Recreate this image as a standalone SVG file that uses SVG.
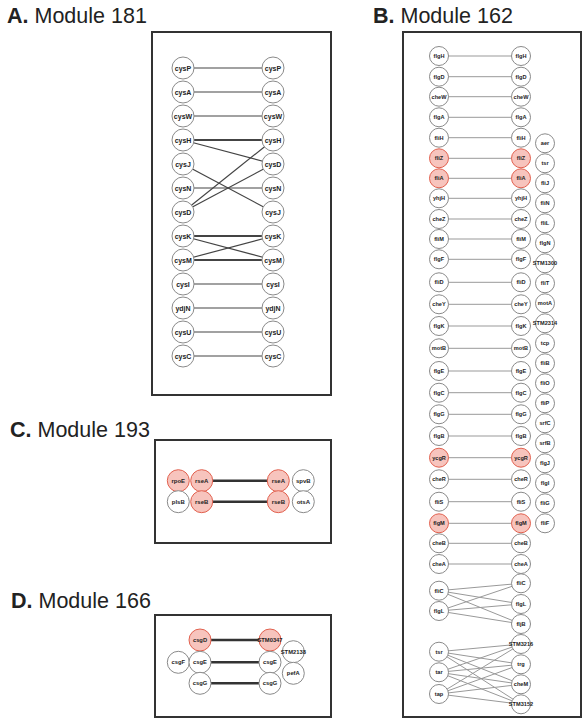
<svg xmlns="http://www.w3.org/2000/svg" width="588" height="725" viewBox="0 0 588 725">
<style>
.bg{fill:#fff}
.box{fill:#fff;stroke:#333;stroke-width:2}
.title{font-family:"Liberation Sans",Arial,sans-serif;font-size:21.5px;fill:#222}
.title .b{font-weight:bold}
circle{fill:#fff;stroke:#8a8a8a;stroke-width:1}
circle.red{fill:#f7c4bd;stroke:#e2614f}
text.l{font-family:"Liberation Sans",Arial,sans-serif;font-weight:bold;fill:#222;text-anchor:middle;dominant-baseline:central}
.ta text.l{font-size:7px}
.tb text.l{font-size:5.6px}
.tc text.l{font-size:6px}
.td text.l{font-size:5.8px}
.ea line{stroke:#444;stroke-width:1.2}
.ea line.d{stroke-width:2}
.eb line{stroke:#999;stroke-width:1}
.ec line{stroke:#333;stroke-width:2.6}
</style>
<rect class="bg" x="0" y="0" width="588" height="725"/>

<text class="title" x="7" y="23"><tspan class="b">A.</tspan> Module 181</text>
<text class="title" x="373" y="23"><tspan class="b">B.</tspan> Module 162</text>
<text class="title" x="10" y="437"><tspan class="b">C.</tspan> Module 193</text>
<text class="title" x="11" y="608"><tspan class="b">D.</tspan> Module 166</text>

<rect class="box" x="152" y="32" width="179" height="363"/>
<rect class="box" x="403" y="32" width="178" height="685"/>
<rect class="box" x="155" y="440" width="176" height="103"/>
<rect class="box" x="155" y="615" width="176" height="102"/>

<g id="connectors">
<g class="ea">
<line x1="183" y1="68" x2="273" y2="68"/>
<line x1="183" y1="92" x2="273" y2="92"/>
<line x1="183" y1="116" x2="273" y2="116"/>
<line class="d" x1="183" y1="140" x2="273" y2="140"/>
<line x1="183" y1="140" x2="273" y2="164"/>
<line x1="183" y1="164" x2="273" y2="212"/>
<line x1="183" y1="188" x2="273" y2="188"/>
<line x1="183" y1="212" x2="273" y2="140"/>
<line x1="183" y1="212" x2="273" y2="164"/>
<line class="d" x1="183" y1="236" x2="273" y2="236"/>
<line x1="183" y1="236" x2="273" y2="260"/>
<line x1="183" y1="260" x2="273" y2="236"/>
<line class="d" x1="183" y1="260" x2="273" y2="260"/>
<line x1="183" y1="284" x2="273" y2="284"/>
<line x1="183" y1="308" x2="273" y2="308"/>
<line x1="183" y1="332" x2="273" y2="332"/>
<line x1="183" y1="356" x2="273" y2="356"/>
</g>
<g class="eb">
<line x1="439" y1="56" x2="521" y2="56"/>
<line x1="439" y1="76.7" x2="521" y2="76.7"/>
<line x1="439" y1="96.7" x2="521" y2="96.7"/>
<line x1="439" y1="117.3" x2="521" y2="117.3"/>
<line x1="439" y1="137.7" x2="521" y2="137.7"/>
<line x1="439" y1="158.3" x2="521" y2="158.3"/>
<line x1="439" y1="178.3" x2="521" y2="178.3"/>
<line x1="439" y1="198.3" x2="521" y2="198.3"/>
<line x1="439" y1="219" x2="521" y2="219"/>
<line x1="439" y1="239" x2="521" y2="239"/>
<line x1="439" y1="259.3" x2="521" y2="259.3"/>
<line x1="439" y1="282.3" x2="521" y2="282.3"/>
<line x1="439" y1="304.3" x2="521" y2="304.3"/>
<line x1="439" y1="326" x2="521" y2="326"/>
<line x1="439" y1="348.3" x2="521" y2="348.3"/>
<line x1="439" y1="371" x2="521" y2="371"/>
<line x1="439" y1="392.7" x2="521" y2="392.7"/>
<line x1="439" y1="414.3" x2="521" y2="414.3"/>
<line x1="439" y1="436" x2="521" y2="436"/>
<line x1="439" y1="457.7" x2="521" y2="457.7"/>
<line x1="439" y1="479.3" x2="521" y2="479.3"/>
<line x1="439" y1="501.7" x2="521" y2="501.7"/>
<line x1="439" y1="523.3" x2="521" y2="523.3"/>
<line x1="439" y1="543.3" x2="521" y2="543.3"/>
<line x1="439" y1="564" x2="521" y2="564"/>
<line x1="439" y1="590.7" x2="521" y2="583.3"/>
<line x1="439" y1="590.7" x2="521" y2="604"/>
<line x1="439" y1="590.7" x2="521" y2="624"/>
<line x1="439" y1="611" x2="521" y2="583.3"/>
<line x1="439" y1="611" x2="521" y2="604"/>
<line x1="439" y1="611" x2="521" y2="624"/>
<line x1="439" y1="651.7" x2="521" y2="644"/>
<line x1="439" y1="651.7" x2="521" y2="664.3"/>
<line x1="439" y1="651.7" x2="521" y2="684.3"/>
<line x1="439" y1="651.7" x2="521" y2="704.3"/>
<line x1="439" y1="672.3" x2="521" y2="644"/>
<line x1="439" y1="672.3" x2="521" y2="664.3"/>
<line x1="439" y1="672.3" x2="521" y2="684.3"/>
<line x1="439" y1="672.3" x2="521" y2="704.3"/>
<line x1="439" y1="694" x2="521" y2="644"/>
<line x1="439" y1="694" x2="521" y2="664.3"/>
<line x1="439" y1="694" x2="521" y2="684.3"/>
<line x1="439" y1="694" x2="521" y2="704.3"/>
</g>
<g class="ec">
<line x1="201.7" y1="480.7" x2="278.3" y2="480.7"/>
<line x1="201.7" y1="501.7" x2="278.3" y2="501.7"/>
<line x1="200" y1="640" x2="270" y2="640"/>
<line x1="200" y1="662.3" x2="270" y2="662.3"/>
<line x1="200" y1="683.3" x2="270" y2="683.3"/>
</g>
</g>

<g class="ta">
<g id="a-l-cysP"><circle cx="183" cy="68" r="11"/><text class="l" x="183" y="68">cysP</text></g>
<g id="a-l-cysA"><circle cx="183" cy="92" r="11"/><text class="l" x="183" y="92">cysA</text></g>
<g id="a-l-cysW"><circle cx="183" cy="116" r="11"/><text class="l" x="183" y="116">cysW</text></g>
<g id="a-l-cysH"><circle cx="183" cy="140" r="11"/><text class="l" x="183" y="140">cysH</text></g>
<g id="a-l-cysJ"><circle cx="183" cy="164" r="11"/><text class="l" x="183" y="164">cysJ</text></g>
<g id="a-l-cysN"><circle cx="183" cy="188" r="11"/><text class="l" x="183" y="188">cysN</text></g>
<g id="a-l-cysD"><circle cx="183" cy="212" r="11"/><text class="l" x="183" y="212">cysD</text></g>
<g id="a-l-cysK"><circle cx="183" cy="236" r="11"/><text class="l" x="183" y="236">cysK</text></g>
<g id="a-l-cysM"><circle cx="183" cy="260" r="11"/><text class="l" x="183" y="260">cysM</text></g>
<g id="a-l-cysI"><circle cx="183" cy="284" r="11"/><text class="l" x="183" y="284">cysI</text></g>
<g id="a-l-ydjN"><circle cx="183" cy="308" r="11"/><text class="l" x="183" y="308">ydjN</text></g>
<g id="a-l-cysU"><circle cx="183" cy="332" r="11"/><text class="l" x="183" y="332">cysU</text></g>
<g id="a-l-cysC"><circle cx="183" cy="356" r="11"/><text class="l" x="183" y="356">cysC</text></g>
<g id="a-r-cysP"><circle cx="273" cy="68" r="11"/><text class="l" x="273" y="68">cysP</text></g>
<g id="a-r-cysA"><circle cx="273" cy="92" r="11"/><text class="l" x="273" y="92">cysA</text></g>
<g id="a-r-cysW"><circle cx="273" cy="116" r="11"/><text class="l" x="273" y="116">cysW</text></g>
<g id="a-r-cysH"><circle cx="273" cy="140" r="11"/><text class="l" x="273" y="140">cysH</text></g>
<g id="a-r-cysD"><circle cx="273" cy="164" r="11"/><text class="l" x="273" y="164">cysD</text></g>
<g id="a-r-cysN"><circle cx="273" cy="188" r="11"/><text class="l" x="273" y="188">cysN</text></g>
<g id="a-r-cysJ"><circle cx="273" cy="212" r="11"/><text class="l" x="273" y="212">cysJ</text></g>
<g id="a-r-cysK"><circle cx="273" cy="236" r="11"/><text class="l" x="273" y="236">cysK</text></g>
<g id="a-r-cysM"><circle cx="273" cy="260" r="11"/><text class="l" x="273" y="260">cysM</text></g>
<g id="a-r-cysI"><circle cx="273" cy="284" r="11"/><text class="l" x="273" y="284">cysI</text></g>
<g id="a-r-ydjN"><circle cx="273" cy="308" r="11"/><text class="l" x="273" y="308">ydjN</text></g>
<g id="a-r-cysU"><circle cx="273" cy="332" r="11"/><text class="l" x="273" y="332">cysU</text></g>
<g id="a-r-cysC"><circle cx="273" cy="356" r="11"/><text class="l" x="273" y="356">cysC</text></g>
</g>

<g class="tb">
<g id="b-l-flgH"><circle cx="439" cy="56" r="9.5"/><text class="l" x="439" y="56">flgH</text></g>
<g id="b-l-flgD"><circle cx="439" cy="76.7" r="9.5"/><text class="l" x="439" y="76.7">flgD</text></g>
<g id="b-l-cheW"><circle cx="439" cy="96.7" r="9.5"/><text class="l" x="439" y="96.7">cheW</text></g>
<g id="b-l-flgA"><circle cx="439" cy="117.3" r="9.5"/><text class="l" x="439" y="117.3">flgA</text></g>
<g id="b-l-fliH"><circle cx="439" cy="137.7" r="9.5"/><text class="l" x="439" y="137.7">fliH</text></g>
<g id="b-l-fliZ"><circle class="red" cx="439" cy="158.3" r="9.5"/><text class="l" x="439" y="158.3">fliZ</text></g>
<g id="b-l-fliA"><circle class="red" cx="439" cy="178.3" r="9.5"/><text class="l" x="439" y="178.3">fliA</text></g>
<g id="b-l-yhjH"><circle cx="439" cy="198.3" r="9.5"/><text class="l" x="439" y="198.3">yhjH</text></g>
<g id="b-l-cheZ"><circle cx="439" cy="219" r="9.5"/><text class="l" x="439" y="219">cheZ</text></g>
<g id="b-l-fliM"><circle cx="439" cy="239" r="9.5"/><text class="l" x="439" y="239">fliM</text></g>
<g id="b-l-flgF"><circle cx="439" cy="259.3" r="9.5"/><text class="l" x="439" y="259.3">flgF</text></g>
<g id="b-l-fliD"><circle cx="439" cy="282.3" r="9.5"/><text class="l" x="439" y="282.3">fliD</text></g>
<g id="b-l-cheY"><circle cx="439" cy="304.3" r="9.5"/><text class="l" x="439" y="304.3">cheY</text></g>
<g id="b-l-flgK"><circle cx="439" cy="326" r="9.5"/><text class="l" x="439" y="326">flgK</text></g>
<g id="b-l-motB"><circle cx="439" cy="348.3" r="9.5"/><text class="l" x="439" y="348.3">motB</text></g>
<g id="b-l-flgE"><circle cx="439" cy="371" r="9.5"/><text class="l" x="439" y="371">flgE</text></g>
<g id="b-l-flgC"><circle cx="439" cy="392.7" r="9.5"/><text class="l" x="439" y="392.7">flgC</text></g>
<g id="b-l-flgG"><circle cx="439" cy="414.3" r="9.5"/><text class="l" x="439" y="414.3">flgG</text></g>
<g id="b-l-flgB"><circle cx="439" cy="436" r="9.5"/><text class="l" x="439" y="436">flgB</text></g>
<g id="b-l-ycgR"><circle class="red" cx="439" cy="457.7" r="9.5"/><text class="l" x="439" y="457.7">ycgR</text></g>
<g id="b-l-cheR"><circle cx="439" cy="479.3" r="9.5"/><text class="l" x="439" y="479.3">cheR</text></g>
<g id="b-l-fliS"><circle cx="439" cy="501.7" r="9.5"/><text class="l" x="439" y="501.7">fliS</text></g>
<g id="b-l-flgM"><circle class="red" cx="439" cy="523.3" r="9.5"/><text class="l" x="439" y="523.3">flgM</text></g>
<g id="b-l-cheB"><circle cx="439" cy="543.3" r="9.5"/><text class="l" x="439" y="543.3">cheB</text></g>
<g id="b-l-cheA"><circle cx="439" cy="564" r="9.5"/><text class="l" x="439" y="564">cheA</text></g>
<g id="b-l-fliC"><circle cx="439" cy="590.7" r="9.5"/><text class="l" x="439" y="590.7">fliC</text></g>
<g id="b-l-flgL"><circle cx="439" cy="611" r="9.5"/><text class="l" x="439" y="611">flgL</text></g>
<g id="b-l-tsr"><circle cx="439" cy="651.7" r="9.5"/><text class="l" x="439" y="651.7">tsr</text></g>
<g id="b-l-tar"><circle cx="439" cy="672.3" r="9.5"/><text class="l" x="439" y="672.3">tar</text></g>
<g id="b-l-tap"><circle cx="439" cy="694" r="9.5"/><text class="l" x="439" y="694">tap</text></g>

<g id="b-r-flgH"><circle cx="521" cy="56" r="9.5"/><text class="l" x="521" y="56">flgH</text></g>
<g id="b-r-flgD"><circle cx="521" cy="76.7" r="9.5"/><text class="l" x="521" y="76.7">flgD</text></g>
<g id="b-r-cheW"><circle cx="521" cy="96.7" r="9.5"/><text class="l" x="521" y="96.7">cheW</text></g>
<g id="b-r-flgA"><circle cx="521" cy="117.3" r="9.5"/><text class="l" x="521" y="117.3">flgA</text></g>
<g id="b-r-fliH"><circle cx="521" cy="137.7" r="9.5"/><text class="l" x="521" y="137.7">fliH</text></g>
<g id="b-r-fliZ"><circle class="red" cx="521" cy="158.3" r="9.5"/><text class="l" x="521" y="158.3">fliZ</text></g>
<g id="b-r-fliA"><circle class="red" cx="521" cy="178.3" r="9.5"/><text class="l" x="521" y="178.3">fliA</text></g>
<g id="b-r-yhjH"><circle cx="521" cy="198.3" r="9.5"/><text class="l" x="521" y="198.3">yhjH</text></g>
<g id="b-r-cheZ"><circle cx="521" cy="219" r="9.5"/><text class="l" x="521" y="219">cheZ</text></g>
<g id="b-r-fliM"><circle cx="521" cy="239" r="9.5"/><text class="l" x="521" y="239">fliM</text></g>
<g id="b-r-flgF"><circle cx="521" cy="259.3" r="9.5"/><text class="l" x="521" y="259.3">flgF</text></g>
<g id="b-r-fliD"><circle cx="521" cy="282.3" r="9.5"/><text class="l" x="521" y="282.3">fliD</text></g>
<g id="b-r-cheY"><circle cx="521" cy="304.3" r="9.5"/><text class="l" x="521" y="304.3">cheY</text></g>
<g id="b-r-flgK"><circle cx="521" cy="326" r="9.5"/><text class="l" x="521" y="326">flgK</text></g>
<g id="b-r-motB"><circle cx="521" cy="348.3" r="9.5"/><text class="l" x="521" y="348.3">motB</text></g>
<g id="b-r-flgE"><circle cx="521" cy="371" r="9.5"/><text class="l" x="521" y="371">flgE</text></g>
<g id="b-r-flgC"><circle cx="521" cy="392.7" r="9.5"/><text class="l" x="521" y="392.7">flgC</text></g>
<g id="b-r-flgG"><circle cx="521" cy="414.3" r="9.5"/><text class="l" x="521" y="414.3">flgG</text></g>
<g id="b-r-flgB"><circle cx="521" cy="436" r="9.5"/><text class="l" x="521" y="436">flgB</text></g>
<g id="b-r-ycgR"><circle class="red" cx="521" cy="457.7" r="9.5"/><text class="l" x="521" y="457.7">ycgR</text></g>
<g id="b-r-cheR"><circle cx="521" cy="479.3" r="9.5"/><text class="l" x="521" y="479.3">cheR</text></g>
<g id="b-r-fliS"><circle cx="521" cy="501.7" r="9.5"/><text class="l" x="521" y="501.7">fliS</text></g>
<g id="b-r-flgM"><circle class="red" cx="521" cy="523.3" r="9.5"/><text class="l" x="521" y="523.3">flgM</text></g>
<g id="b-r-cheB"><circle cx="521" cy="543.3" r="9.5"/><text class="l" x="521" y="543.3">cheB</text></g>
<g id="b-r-cheA"><circle cx="521" cy="564" r="9.5"/><text class="l" x="521" y="564">cheA</text></g>
<g id="b-r-fliC"><circle cx="521" cy="583.3" r="9.5"/><text class="l" x="521" y="583.3">fliC</text></g>
<g id="b-r-flgL"><circle cx="521" cy="604" r="9.5"/><text class="l" x="521" y="604">flgL</text></g>
<g id="b-r-fljB"><circle cx="521" cy="624" r="9.5"/><text class="l" x="521" y="624">fljB</text></g>
<g id="b-r-STM3216"><circle cx="521" cy="644" r="9.5"/><text class="l" x="521" y="644">STM3216</text></g>
<g id="b-r-trg"><circle cx="521" cy="664.3" r="9.5"/><text class="l" x="521" y="664.3">trg</text></g>
<g id="b-r-cheM"><circle cx="521" cy="684.3" r="9.5"/><text class="l" x="521" y="684.3">cheM</text></g>
<g id="b-r-STM3152"><circle cx="521" cy="704.3" r="9.5"/><text class="l" x="521" y="704.3">STM3152</text></g>

<g id="b-aer"><circle cx="545" cy="143.3" r="9.5"/><text class="l" x="545" y="143.3">aer</text></g>
<g id="b-tsr"><circle cx="545" cy="163.3" r="9.5"/><text class="l" x="545" y="163.3">tsr</text></g>
<g id="b-fliJ"><circle cx="545" cy="183.3" r="9.5"/><text class="l" x="545" y="183.3">fliJ</text></g>
<g id="b-fliN"><circle cx="545" cy="203.3" r="9.5"/><text class="l" x="545" y="203.3">fliN</text></g>
<g id="b-fliL"><circle cx="545" cy="223.3" r="9.5"/><text class="l" x="545" y="223.3">fliL</text></g>
<g id="b-flgN"><circle cx="545" cy="243.3" r="9.5"/><text class="l" x="545" y="243.3">flgN</text></g>
<g id="b-STM1300"><circle cx="545" cy="263.3" r="9.5"/><text class="l" x="545" y="263.3">STM1300</text></g>
<g id="b-fliT"><circle cx="545" cy="283.3" r="9.5"/><text class="l" x="545" y="283.3">fliT</text></g>
<g id="b-motA"><circle cx="545" cy="303.3" r="9.5"/><text class="l" x="545" y="303.3">motA</text></g>
<g id="b-STM2314"><circle cx="545" cy="323.3" r="9.5"/><text class="l" x="545" y="323.3">STM2314</text></g>
<g id="b-tcp"><circle cx="545" cy="343.3" r="9.5"/><text class="l" x="545" y="343.3">tcp</text></g>
<g id="b-fliB"><circle cx="545" cy="363.3" r="9.5"/><text class="l" x="545" y="363.3">fliB</text></g>
<g id="b-fliO"><circle cx="545" cy="383.3" r="9.5"/><text class="l" x="545" y="383.3">fliO</text></g>
<g id="b-fliP"><circle cx="545" cy="403.3" r="9.5"/><text class="l" x="545" y="403.3">fliP</text></g>
<g id="b-srfC"><circle cx="545" cy="423.3" r="9.5"/><text class="l" x="545" y="423.3">srfC</text></g>
<g id="b-srfB"><circle cx="545" cy="443.3" r="9.5"/><text class="l" x="545" y="443.3">srfB</text></g>
<g id="b-flgJ"><circle cx="545" cy="463.3" r="9.5"/><text class="l" x="545" y="463.3">flgJ</text></g>
<g id="b-flgI"><circle cx="545" cy="483.3" r="9.5"/><text class="l" x="545" y="483.3">flgI</text></g>
<g id="b-fliG"><circle cx="545" cy="503.3" r="9.5"/><text class="l" x="545" y="503.3">fliG</text></g>
<g id="b-fliF"><circle cx="545" cy="523.3" r="9.5"/><text class="l" x="545" y="523.3">fliF</text></g>
</g>

<g class="tc">
<g id="c-rpoE"><circle class="red" cx="178.3" cy="480.7" r="11"/><text class="l" x="178.3" y="480.7">rpoE</text></g>
<g id="c-l-rseA"><circle class="red" cx="201.7" cy="480.7" r="11"/><text class="l" x="201.7" y="480.7">rseA</text></g>
<g id="c-r-rseA"><circle class="red" cx="278.3" cy="480.7" r="11"/><text class="l" x="278.3" y="480.7">rseA</text></g>
<g id="c-spvB"><circle cx="303.3" cy="480.7" r="11"/><text class="l" x="303.3" y="480.7">spvB</text></g>
<g id="c-plsB"><circle cx="178.3" cy="501.7" r="11"/><text class="l" x="178.3" y="501.7">plsB</text></g>
<g id="c-l-rseB"><circle class="red" cx="201.7" cy="501.7" r="11"/><text class="l" x="201.7" y="501.7">rseB</text></g>
<g id="c-r-rseB"><circle class="red" cx="278.3" cy="501.7" r="11"/><text class="l" x="278.3" y="501.7">rseB</text></g>
<g id="c-otsA"><circle cx="303.3" cy="501.7" r="11"/><text class="l" x="303.3" y="501.7">otsA</text></g>
</g>

<g class="td">
<g id="d-csgD"><circle class="red" cx="200" cy="640" r="11"/><text class="l" x="200" y="640">csgD</text></g>
<g id="d-STM0347"><circle class="red" cx="270" cy="640" r="11"/><text class="l" x="270" y="640">STM0347</text></g>
<g id="d-STM2138"><circle cx="293.3" cy="651.7" r="11"/><text class="l" x="293.3" y="651.7">STM2138</text></g>
<g id="d-csgF"><circle cx="178.3" cy="662.3" r="11"/><text class="l" x="178.3" y="662.3">csgF</text></g>
<g id="d-l-csgE"><circle cx="200" cy="662.3" r="11"/><text class="l" x="200" y="662.3">csgE</text></g>
<g id="d-r-csgE"><circle cx="270" cy="662.3" r="11"/><text class="l" x="270" y="662.3">csgE</text></g>
<g id="d-pefA"><circle cx="293.3" cy="673.3" r="11"/><text class="l" x="293.3" y="673.3">pefA</text></g>
<g id="d-l-csgG"><circle cx="200" cy="683.3" r="11"/><text class="l" x="200" y="683.3">csgG</text></g>
<g id="d-r-csgG"><circle cx="270" cy="683.3" r="11"/><text class="l" x="270" y="683.3">csgG</text></g>
</g>
</svg>
